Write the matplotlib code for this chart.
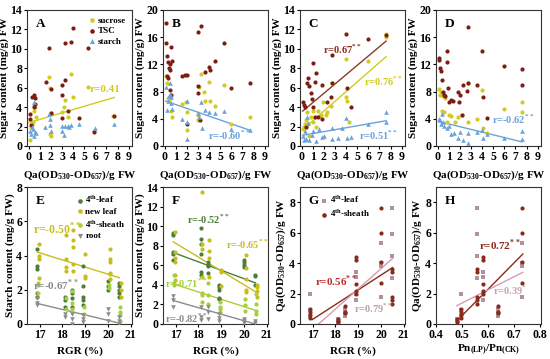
import numpy as np
import matplotlib
matplotlib.use("Agg")
from matplotlib import pyplot as plt

plt.rcParams['font.family'] = ['Liberation Serif', 'DejaVu Serif']
plt.rcParams['font.weight'] = 'bold'
plt.rcParams['axes.labelweight'] = 'bold'
plt.rcParams['mathtext.fontset'] = 'custom'
plt.rcParams['mathtext.rm'] = 'Liberation Serif:bold'
plt.rcParams['mathtext.bf'] = 'Liberation Serif:bold'

# colours
C_SUC = '#d2cc1e'
C_TSC = '#7d1d14'
C_STA = '#6aa2dc'
C_LEAF = '#4d7d3a'
C_NEW = '#c9bd1c'
C_SHEATH = '#a6cf3c'
C_ROOT = '#8c8c8c'
C_GLEAF = '#b48fa0'
C_GSHEATH = '#8a2a1a'

# ---- panel A ----
a_suc_x = [0.1, 0.2, 0.3, 0.4, 0.5, 0.5, 0.6, 0.7, 1.8, 1.9, 2.0, 2.0, 3.0, 3.2, 3.3, 3.5, 3.8, 4.0, 5.3, 5.9, 7.6, 1.9]
a_suc_y = [0.6, 2.0, 2.2, 2.5, 3.6, 4.2, 4.0, 3.0, 7.1, 1.2, 1.0, 3.4, 3.5, 4.0, 4.7, 3.0, 7.4, 5.0, 6.1, 1.5, 3.1, 6.0]
a_tsc_x = [0.1, 0.1, 0.2, 0.3, 0.5, 0.6, 0.6, 0.5, 1.8, 1.6, 2.0, 2.0, 3.0, 3.0, 3.0, 3.3, 3.3, 3.5, 3.8, 4.0, 4.5, 5.3, 5.9, 7.7]
a_tsc_y = [3.3, 2.8, 2.2, 5.0, 5.2, 4.9, 4.3, 4.0, 10.1, 6.6, 5.9, 3.4, 2.9, 6.3, 5.2, 10.6, 6.8, 3.6, 10.7, 12.1, 2.9, 10.1, 1.4, 3.1]
a_sta_x = [0.1, 0.2, 0.3, 0.4, 0.5, 0.6, 0.7, 0.5, 1.9, 1.9, 1.8, 2.0, 3.0, 3.0, 3.2, 3.3, 3.5, 3.6, 3.8, 4.5, 6.0, 7.7, 1.5]
a_sta_y = [1.5, 1.2, 2.0, 1.7, 4.5, 1.4, 1.3, 1.0, 2.8, 2.2, 3.3, 1.5, 1.5, 2.1, 1.1, 2.1, 2.1, 2.0, 2.2, 2.3, 1.9, 2.3, 2.0]
a_fit_x = [0.0, 7.7]
a_fit_y = [2.4, 5.0]

# ---- panel B ----
b_tsc_x = [0.1, 0.1, 0.2, 0.3, 0.4, 0.5, 0.6, 0.7, 0.3, 0.5, 0.2, 1.8, 2.0, 1.6, 3.0, 3.3, 3.0, 3.0, 3.2, 3.6, 4.0, 4.1, 4.5, 5.3, 6.0, 7.7, 2.0, 0.6, 0.5]
b_tsc_y = [18.1, 15.1, 13.2, 12.3, 11.5, 12.0, 14.6, 12.5, 10.0, 11.2, 10.3, 10.4, 10.5, 10.3, 16.8, 17.7, 8.8, 7.8, 3.8, 10.9, 11.6, 11.2, 12.5, 15.2, 8.6, 9.3, 3.3, 7.5, 8.2]
b_suc_x = [0.1, 0.2, 0.3, 0.4, 0.5, 0.7, 0.6, 1.6, 1.9, 2.0, 2.0, 3.0, 3.1, 3.3, 3.5, 3.6, 4.0, 4.1, 4.5, 5.3, 6.0, 7.7, 3.0]
b_suc_y = [10.3, 9.2, 7.0, 6.8, 7.2, 4.2, 5.2, 6.2, 6.4, 5.0, 2.3, 4.6, 8.7, 10.6, 8.0, 6.6, 9.4, 6.6, 5.9, 8.9, 3.3, 4.3, 3.8]
b_sta_x = [0.1, 0.2, 0.3, 0.4, 0.5, 0.6, 0.7, 0.5, 1.6, 2.0, 2.0, 2.0, 3.0, 3.1, 3.3, 3.4, 3.6, 4.0, 4.5, 5.3, 6.0, 7.7, 0.6]
b_sta_y = [8.7, 5.3, 6.6, 7.3, 7.6, 6.3, 5.5, 9.2, 4.0, 6.6, 1.0, 3.5, 4.8, 4.2, 6.4, 2.6, 5.3, 5.0, 4.8, 5.2, 2.5, 2.3, 7.2]
b_fit_x = [0.1, 7.7]
b_fit_y = [6.6, 2.3]

# ---- panel C ----
c_tsc_x = [0.1, 0.2, 0.3, 0.5, 0.6, 0.7, 0.8, 0.9, 1.0, 1.3, 1.2, 1.0, 1.5, 1.8, 1.8, 2.3, 2.7, 2.6, 2.7, 4.0, 4.1, 4.4, 6.0, 7.6, 0.4, 1.2]
c_tsc_y = [4.5, 4.2, 4.0, 6.5, 7.0, 6.2, 5.5, 4.8, 8.5, 7.5, 6.6, 4.0, 3.0, 6.3, 2.8, 4.5, 9.4, 5.0, 6.5, 11.5, 6.0, 4.0, 11.0, 11.4, 2.0, 3.0]
c_suc_x = [0.1, 0.2, 0.4, 0.5, 0.6, 0.8, 1.0, 1.0, 1.3, 1.5, 1.7, 1.9, 2.2, 2.3, 2.6, 2.7, 4.0, 4.0, 4.1, 4.3, 6.0, 7.6, 7.6, 0.3, 0.7]
c_suc_y = [1.8, 2.0, 2.7, 3.5, 2.3, 3.0, 2.5, 3.6, 2.0, 3.6, 3.2, 4.5, 3.2, 3.5, 4.1, 6.5, 9.0, 5.0, 4.6, 2.5, 8.8, 11.2, 11.5, 2.3, 1.0]
c_sta_x = [0.1, 0.2, 0.3, 0.4, 0.5, 0.6, 0.7, 0.9, 1.0, 1.3, 1.6, 1.8, 2.0, 2.7, 2.7, 3.3, 3.6, 4.0, 4.1, 4.4, 6.0, 7.6, 7.6]
c_sta_y = [1.0, 0.6, 1.5, 0.7, 3.0, 2.4, 0.6, 1.1, 1.5, 0.5, 1.7, 0.9, 1.0, 1.9, 0.7, 0.8, 1.9, 2.9, 0.8, 0.9, 2.3, 3.5, 2.5]
c_fit_x = [0.1, 7.6]
c_tsc_fit = [3.6, 10.8]
c_suc_fit = [1.7, 9.2]
c_sta_fit = [1.1, 2.6]

# ---- panel D ----
d_tsc_x = [0.1, 0.1, 0.2, 0.3, 0.4, 0.6, 0.7, 0.8, 0.8, 0.9, 1.0, 1.2, 1.4, 1.8, 1.9, 2.0, 2.2, 2.3, 2.7, 2.7, 2.6, 3.5, 4.0, 4.1, 4.4, 6.0, 7.6, 7.6, 0.5]
d_tsc_y = [12.7, 13.0, 11.5, 11.0, 9.7, 7.5, 7.3, 14.0, 12.3, 8.5, 6.5, 6.7, 6.6, 8.0, 6.5, 7.5, 4.5, 8.9, 17.5, 9.2, 8.1, 9.0, 13.9, 7.2, 4.1, 11.7, 11.3, 9.0, 8.0]
d_suc_x = [0.1, 0.2, 0.3, 0.4, 0.6, 0.7, 0.8, 1.0, 1.2, 1.6, 1.8, 2.2, 2.7, 2.7, 3.5, 4.0, 4.1, 4.4, 6.0, 7.6, 7.6, 0.5]
d_suc_y = [8.4, 7.5, 8.0, 5.2, 5.0, 7.0, 3.5, 4.5, 4.4, 3.5, 4.2, 4.6, 3.6, 9.3, 4.0, 8.3, 2.6, 1.9, 5.4, 6.5, 5.0, 7.3]
d_sta_x = [0.1, 0.2, 0.3, 0.4, 0.6, 0.8, 1.0, 1.2, 1.5, 1.8, 2.0, 2.3, 2.7, 2.7, 3.5, 4.0, 4.1, 4.4, 6.0, 7.6, 7.6, 0.5]
d_sta_y = [4.0, 3.8, 3.2, 4.7, 3.0, 2.6, 2.9, 1.8, 1.9, 1.2, 2.1, 0.9, 1.9, 0.5, 2.1, 2.3, 1.2, 1.7, 1.2, 2.2, 1.1, 3.5]
d_fit_x = [0.1, 7.6]
d_fit_y = [3.6, 0.6]

# ---- panels E, F, G (values grouped by RGR level) ----
rgr = [16.9, 18.1, 18.4, 18.9, 20.0, 20.5]

e_leaf = [[4.4, 3.4, 3.2, 1.8, 1.6], [1.6, 1.4, 1.0], [2.0, 1.8, 1.5, 1.0], [3.4, 2.2, 1.6, 1.4, 1.1], [2.5, 2.2, 2.0], [2.4, 2.2, 2.0, 1.8, 1.6]]
e_new = [[4.7, 4.0, 3.8, 2.7], [5.2, 3.8, 3.3, 3.1], [5.5, 4.9, 4.5, 3.5, 3.1], [4.1, 2.8, 2.7], [4.4, 3.8, 3.6, 3.0, 2.9, 2.6], [2.4, 2.0, 1.6]]
e_sheath = [[2.4, 2.3, 1.8], [1.5, 0.9], [1.9, 1.2, 0.9, 0.7], [1.0, 0.6], [2.3, 2.1], [1.0, 0.7, 0.5, 0.2]]
e_root = [[1.5, 1.2, 1.1], [0.6, 0.4], [0.6, 0.3, 0.0], [0.5, 0.3, 0.1], [0.9, 0.6, 0.2], [0.4, 0.2, 0.0]]
e_fit_x = [16.9, 20.5]
e_new_fit = [4.2, 2.7]
e_root_fit = [1.2, 0.05]

f_leaf = [[9.3, 9.1, 7.4, 7.2, 6.5], [9.8, 8.7, 8.2, 7.2, 5.3, 5.0], [6.3, 6.0, 5.9, 5.2], [4.0, 3.8, 3.5, 2.7, 2.6], [6.5, 6.3, 6.0, 5.8], [5.0, 4.9, 4.0]]
f_new = [[9.4, 7.4, 6.7, 6.3, 5.0, 4.5], [13.5, 8.2, 7.7, 4.8], [8.6, 7.5, 6.7, 4.8], [5.5, 5.3, 3.9], [7.1, 5.7, 4.6, 3.5, 3.3], [4.0, 3.8, 3.4, 2.8]]
f_sheath = [[5.0, 4.2, 4.0], [3.2, 3.0, 2.2], [4.2, 3.0, 2.0], [2.2, 1.7, 1.5, 1.2], [2.6, 1.9, 1.3], [3.1, 2.0, 1.3, 1.0]]
f_root = [[2.9, 2.5, 1.7], [1.7, 0.7, 0.4], [1.7, 1.2, 0.5], [1.0, 0.6, 0.3], [0.5, 0.3, 0.1], [0.3, 0.1]]
f_fit_x = [16.9, 20.5]
f_leaf_fit = [7.3, 4.2]
f_new_fit = [8.4, 3.3]
f_sheath_fit = [4.1, 1.4]
f_root_fit = [2.4, 0.0]

g_leaf = [[2.0, 0.9, 0.5], [0.3, 0.1], [1.0, 0.7, 0.5], [3.4, 3.1, 2.0, 1.6], [5.3, 4.0, 3.8, 1.8], [7.6, 5.9, 4.5, 3.0]]
g_sheath = [[1.0, 0.8, 0.6, 0.4], [0.3, 0.2, 0.1], [1.2, 0.8, 0.7], [4.4, 4.2, 2.6, 2.2, 2.0], [7.6, 6.0, 4.1, 2.7], [3.6, 3.4, 1.8, 1.6, 1.3]]
g_fit_x = [17.0, 20.5]
g_sheath_fit = [0.3, 3.7]
g_leaf_fit = [-0.35, 4.3]

# ---- panel H (values grouped by Pn ratio) ----
pn = [0.48, 0.495, 0.56, 0.58, 0.64, 0.73]
h_leaf = [[0.3], [2.0, 0.9, 0.5], [7.6, 5.9, 4.5, 3.0], [3.4, 3.1, 2.0, 1.6], [1.0, 0.7, 0.5], [5.3, 4.0, 3.8, 1.8]]
h_sheath = [[0.3, 0.2, 0.1], [1.0, 0.8, 0.6, 0.4], [3.6, 3.4, 1.8, 1.6, 1.3], [4.4, 4.2, 2.6, 2.2, 2.0], [1.2, 0.8, 0.7], [7.6, 6.0, 4.1, 2.7]]
h_fit_x = [0.48, 0.735]
h_sheath_fit = [0.2, 4.6]
h_leaf_fit = [1.2, 3.4]

QA_LABEL = 'Qa(OD$_\\mathregular{530}$-OD$_\\mathregular{657}$)/g FW'
MS = 9
TICK_FS = 8.5
LABEL_FS = 8
R_FS = 7.5
LEG = dict(frameon=False, fontsize=6.5, handletextpad=0.1, borderaxespad=0.3,
           labelspacing=0.25, markerscale=1.1, handlelength=1.0)


def expand(levels, groups):
    xs, ys = [], []
    for lv, g in zip(levels, groups):
        xs += [lv] * len(g)
        ys += g
    return xs, ys


def make_ax(fig, col, row):
    lefts = [27, 163, 300, 436]
    if row == 0:
        b, h = (359 - 146) / 359, 136 / 359
    else:
        b, h = (359 - 324) / 359, 137 / 359
    ax = fig.add_axes([lefts[col] / 550, b, 105 / 550, h])
    ax.tick_params(labelsize=TICK_FS, length=2.5, width=0.8, pad=1)
    for s in ax.spines.values():
        s.set_linewidth(0.8)
        s.set_color('#333333')
    return ax


def letter(ax, t):
    ax.text(0.08, 0.94, t, transform=ax.transAxes, fontsize=9.5, fontweight='bold', va='top', ha='left')


def top_panel(ax, ymax, ystep):
    ax.set_xlim(-0.15, 9.3)
    ax.set_ylim(0, ymax)
    ax.set_xticks(range(0, 10))
    ax.set_yticks(np.arange(0, ymax + 0.1, ystep))
    ax.set_xlabel(QA_LABEL, fontsize=LABEL_FS, labelpad=4)
    ax.set_ylabel('Sugar content (mg/g) FW', fontsize=LABEL_FS, labelpad=1)


def sugar_scatter(ax, sx, sy, tx, ty, bx, by):
    ax.scatter(sx, sy, s=MS, color=C_SUC, marker='o', linewidths=0, label='sucrose', zorder=3)
    ax.scatter(tx, ty, s=MS, color=C_TSC, marker='o', linewidths=0, label='TSC', zorder=3)
    ax.scatter(bx, by, s=MS + 2, color=C_STA, marker='^', linewidths=0, label='starch', zorder=3)


fig = plt.figure(figsize=(5.5, 3.59), dpi=100)

# A
ax = make_ax(fig, 0, 0)
sugar_scatter(ax, a_suc_x, a_suc_y, a_tsc_x, a_tsc_y, a_sta_x, a_sta_y)
ax.plot(a_fit_x, a_fit_y, color=C_SUC, lw=1)
top_panel(ax, 14, 2)
ax.text(5.5, 5.6, 'r=0.41', color=C_SUC, fontsize=R_FS + 0.5, fontweight='bold')
ax.legend(loc='upper right', **LEG)
letter(ax, 'A')

# B
ax = make_ax(fig, 1, 0)
sugar_scatter(ax, b_suc_x, b_suc_y, b_tsc_x, b_tsc_y, b_sta_x, b_sta_y)
ax.plot(b_fit_x, b_fit_y, color=C_STA, lw=1)
top_panel(ax, 20, 4)
ax.text(3.9, 0.9, 'r=-0.60$^{**}$', color=C_STA, fontsize=R_FS, fontweight='bold')
letter(ax, 'B')

# C
ax = make_ax(fig, 2, 0)
sugar_scatter(ax, c_suc_x, c_suc_y, c_tsc_x, c_tsc_y, c_sta_x, c_sta_y)
ax.plot(c_fit_x, c_tsc_fit, color='#8b3a2a', lw=1)
ax.plot(c_fit_x, c_suc_fit, color=C_SUC, lw=1)
ax.plot(c_fit_x, c_sta_fit, color=C_STA, lw=1)
top_panel(ax, 14, 2)
ax.text(1.9, 9.5, 'r=0.67$^{**}$', color='#8b2a1a', fontsize=R_FS, fontweight='bold')
ax.text(5.6, 6.2, 'r=0.76$^{**}$', color=C_SUC, fontsize=R_FS, fontweight='bold')
ax.text(5.2, 0.6, 'r=0.51$^{**}$', color=C_STA, fontsize=R_FS, fontweight='bold')
letter(ax, 'C')

# D
ax = make_ax(fig, 3, 0)
sugar_scatter(ax, d_suc_x, d_suc_y, d_tsc_x, d_tsc_y, d_sta_x, d_sta_y)
ax.plot(d_fit_x, d_fit_y, color=C_STA, lw=1)
top_panel(ax, 20, 4)
ax.text(4.9, 3.2, 'r=-0.62$^{**}$', color=C_STA, fontsize=R_FS, fontweight='bold')
letter(ax, 'D')


def rgr_panel(ax, ymax, ystep, ylabel):
    ax.set_xlim(16.45, 21.05)
    ax.set_ylim(0, ymax)
    ax.set_xticks(range(17, 22))
    ax.set_yticks(np.arange(0, ymax + 0.1, ystep))
    ax.set_xlabel('RGR (%)', fontsize=LABEL_FS, labelpad=4)
    ax.set_ylabel(ylabel, fontsize=LABEL_FS, labelpad=1)


def tissue_scatter(ax, leaf, new, sheath, root):
    x, y = expand(rgr, leaf)
    ax.scatter(x, y, s=MS, color=C_LEAF, marker='o', linewidths=0, label='4$^\\mathregular{th}$-leaf', zorder=3)
    x, y = expand(rgr, new)
    ax.scatter([v + 0.08 for v in x], y, s=MS, color=C_NEW, marker='o', linewidths=0, label='new leaf', zorder=3)
    x, y = expand(rgr, sheath)
    ax.scatter([v + 0.04 for v in x], y, s=MS, color=C_SHEATH, marker='o', linewidths=0, label='4$^\\mathregular{th}$-sheath', zorder=3)
    x, y = expand(rgr, root)
    ax.scatter(x, y, s=MS + 2, color=C_ROOT, marker='v', linewidths=0, label='root', zorder=3)


# E
ax = make_ax(fig, 0, 1)
tissue_scatter(ax, e_leaf, e_new, e_sheath, e_root)
ax.plot(e_fit_x, e_new_fit, color=C_NEW, lw=1)
ax.plot(e_fit_x, e_root_fit, color=C_ROOT, lw=1)
rgr_panel(ax, 8, 2, 'Starch content (mg/g FW)')
ax.text(16.7, 5.2, 'r=-0.50$^{**}$', color=C_NEW, fontsize=8.5, fontweight='bold')
ax.text(16.7, 2.0, 'r=-0.67$^{**}$', color=C_ROOT, fontsize=R_FS + 0.5, fontweight='bold')
ax.legend(loc='upper right', **LEG)
letter(ax, 'E')

# F
ax = make_ax(fig, 1, 1)
tissue_scatter(ax, f_leaf, f_new, f_sheath, f_root)
ax.plot(f_fit_x, f_leaf_fit, color=C_LEAF, lw=1)
ax.plot(f_fit_x, f_new_fit, color=C_NEW, lw=1)
ax.plot(f_fit_x, f_sheath_fit, color=C_SHEATH, lw=1)
ax.plot(f_fit_x, f_root_fit, color=C_ROOT, lw=1)
rgr_panel(ax, 14, 2, 'Starch content (mg/g FW)')
ax.text(17.5, 10.2, 'r=-0.52$^{**}$', color=C_LEAF, fontsize=R_FS, fontweight='bold')
ax.text(19.2, 7.7, 'r=-0.65$^{**}$', color=C_NEW, fontsize=R_FS, fontweight='bold')
ax.text(16.55, 3.7, 'r=-0.71$^{**}$', color=C_SHEATH, fontsize=R_FS, fontweight='bold')
ax.text(16.55, 0.15, 'r=-0.82$^{**}$', color=C_ROOT, fontsize=R_FS, fontweight='bold')
letter(ax, 'F')

# G
ax = make_ax(fig, 2, 1)
x, y = expand(rgr, g_leaf)
ax.scatter(x, y, s=MS, color=C_GLEAF, marker='s', linewidths=0, label='4$^\\mathregular{th}$-leaf', zorder=3)
x, y = expand(rgr, g_sheath)
ax.scatter(x, y, s=MS, color=C_GSHEATH, marker='o', linewidths=0, label='4$^\\mathregular{th}$-sheath', zorder=3)
ax.plot(g_fit_x, g_sheath_fit, color=C_GSHEATH, lw=1)
ax.plot(g_fit_x, g_leaf_fit, color='#d79ab2', lw=1)
rgr_panel(ax, 9, 2, QA_LABEL)
ax.set_yticks(range(0, 9, 2))
ax.text(17.1, 2.5, 'r=0.56$^{**}$', color='#c0282a', fontsize=R_FS + 0.5, fontweight='bold')
ax.text(18.8, 0.7, 'r=0.79$^{**}$', color='#b8a0aa', fontsize=R_FS, fontweight='bold')
ax.legend(loc='upper left', bbox_to_anchor=(0.13, 1.0), **LEG)
letter(ax, 'G')

# H
ax = make_ax(fig, 3, 1)
x, y = expand(pn, h_leaf)
ax.scatter(x, y, s=MS, color=C_GLEAF, marker='s', linewidths=0, zorder=3)
x, y = expand(pn, h_sheath)
ax.scatter(x, y, s=MS, color=C_GSHEATH, marker='o', linewidths=0, zorder=3)
ax.plot(h_fit_x, h_sheath_fit, color=C_GSHEATH, lw=1)
ax.plot(h_fit_x, h_leaf_fit, color='#d79ab2', lw=1)
ax.set_xlim(0.4, 0.805)
ax.set_ylim(0, 9)
ax.set_xticks([0.4, 0.5, 0.6, 0.7, 0.8])
ax.set_yticks(range(0, 9, 2))
ax.set_xlabel('Pn$_\\mathregular{(LP)}$/Pn$_\\mathregular{(CK)}$', fontsize=LABEL_FS, labelpad=1)
ax.set_ylabel(QA_LABEL, fontsize=LABEL_FS, labelpad=1)
ax.text(0.567, 4.9, 'r=0.72$^{**}$', color=C_GSHEATH, fontsize=R_FS + 0.5, fontweight='bold')
ax.text(0.62, 1.9, 'r=0.39$^{*}$', color='#c8a0b4', fontsize=R_FS, fontweight='bold')
letter(ax, 'H')

fig.savefig('out.png', dpi=100)
